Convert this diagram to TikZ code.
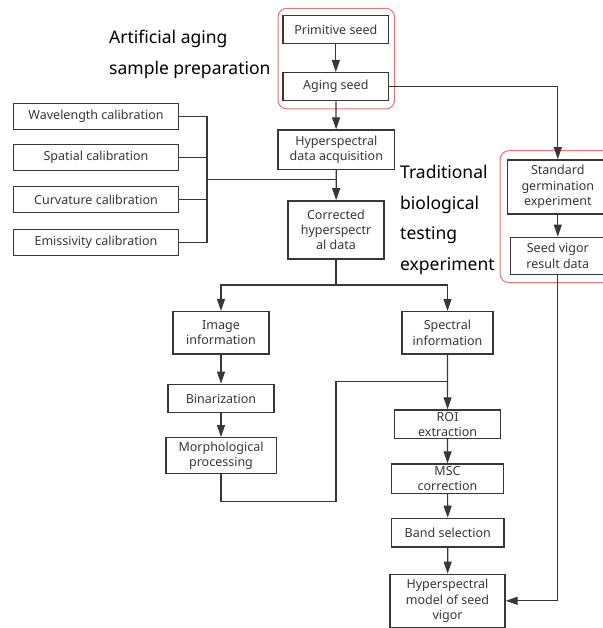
\documentclass[tikz,border=0pt]{standalone}
\usepackage{fontspec}
\setmainfont{Noto Sans}
\usetikzlibrary{arrows.meta}
\definecolor{linegray}{HTML}{383838}
\definecolor{framered}{HTML}{EE6F76}

\begin{document}
\begin{tikzpicture}[x=1pt, y=-1pt,
  box/.style={draw=linegray, line width=1.4pt, align=center, inner sep=1pt, text=linegray, font=\fontsize{12.5}{15.3}\selectfont},
  link/.style={draw=linegray, line width=1.2pt},
  arr/.style={link, -{Triangle[length=12pt,width=8pt]}},
  group/.style={draw=framered, line width=1pt, rounded corners=9pt},
  title/.style={align=left, anchor=west, inner sep=0pt, font=\fontsize{17.5}{30.7}\selectfont}]

\useasboundingbox (0,0) rectangle (602,628);
\fill[white] (0,0) rectangle (602,628);

\draw[group] (278,8.3) rectangle (394.6,109);
\draw[group] (500,150.7) rectangle (614,282.7);

\node (prim) at (335.8,29.7) [box, minimum width=105.5, minimum height=28] {Primitive seed};
\node (aging) at (335.8,86.7) [box, minimum width=105.5, minimum height=28] {Aging seed};
\node (acq) at (336.3,149.7) [box, minimum width=116.6, minimum height=39.3] {Hyperspectral\\data acquisition};
\node (corr) at (336,230) [box, minimum width=96, minimum height=58.3] {Corrected\\hyperspectr\\al data};

\node (wave) at (96,116.7) [box, minimum width=165, minimum height=26] {Wavelength calibration};
\node (spat) at (96,157.7) [box, minimum width=165, minimum height=26] {Spatial calibration};
\node (curv) at (96,199.7) [box, minimum width=165, minimum height=26] {Curvature calibration};
\node (emis) at (96,242.7) [box, minimum width=165, minimum height=26] {Emissivity calibration};

\node (std) at (557.8,187) [box, minimum width=100.6, minimum height=54.3] {Standard\\germination\\experiment};
\node (vig) at (557.8,255.8) [box, minimum width=94.6, minimum height=37] {Seed vigor\\result data};

\node (img) at (221,332.8) [box, minimum width=96, minimum height=42.3] {Image\\information};
\node (spec) at (447.5,332.8) [box, minimum width=91, minimum height=42.3] {Spectral\\information};
\node (bin) at (221,398.5) [box, minimum width=106, minimum height=28.4] {Binarization};
\node (morph) at (221,455.5) [box, minimum width=110.4, minimum height=35.6] {Morphological\\processing};
\node (roi) at (447.6,424.2) [box, minimum width=106, minimum height=28.3] {ROI\\extraction};
\node (msc) at (447.5,478.7) [box, minimum width=111.7, minimum height=29.3] {MSC\\correction};
\node (band) at (447.8,532.7) [box, minimum width=112.4, minimum height=28.7] {Band selection};
\node (model) at (447.5,600.8) [box, minimum width=115, minimum height=53] {Hyperspectral\\model of seed\\vigor};

\node (prep) at (109,54.7) [title] {Artificial aging\\sample preparation};
\node (trad) at (400,219.8) [title] {Traditional\\biological\\testing\\experiment};

\coordinate (brk) at (207,179.3);
\coordinate (join) at (336.3,179.3);
\coordinate (fork) at (336,285);
\coordinate (mbot) at (336,501.3);
\coordinate (mtop) at (336,381.7);

\draw[arr] (prim) -- (aging);
\draw[arr] (aging) -- (acq);
\draw[arr] (acq) -- (corr);
\draw[link] (wave.east) -| (brk);
\draw[link] (spat.east) -| (brk);
\draw[link] (curv.east) -| (brk);
\draw[link] (emis.east) -| (brk);
\draw[link] (brk) -- (join);

\draw[arr] (aging.east) -| (std.north);
\draw[arr] (std) -- (vig);
\draw[arr] (vig.south) |- (model.east);

\draw[link] (corr.south) -- (fork);
\draw[arr] (fork) -| (img.north);
\draw[arr] (fork) -| (spec.north);
\draw[arr] (img) -- (bin);
\draw[arr] (bin) -- (morph);
\draw[link] (morph.south) |- (mbot) -- (mtop) -- (mtop -| spec.south);
\draw[arr] (spec) -- (roi);
\draw[arr] (roi) -- (msc);
\draw[arr] (msc) -- (band);
\draw[arr] (band) -- (model);

\end{tikzpicture}
\end{document}
